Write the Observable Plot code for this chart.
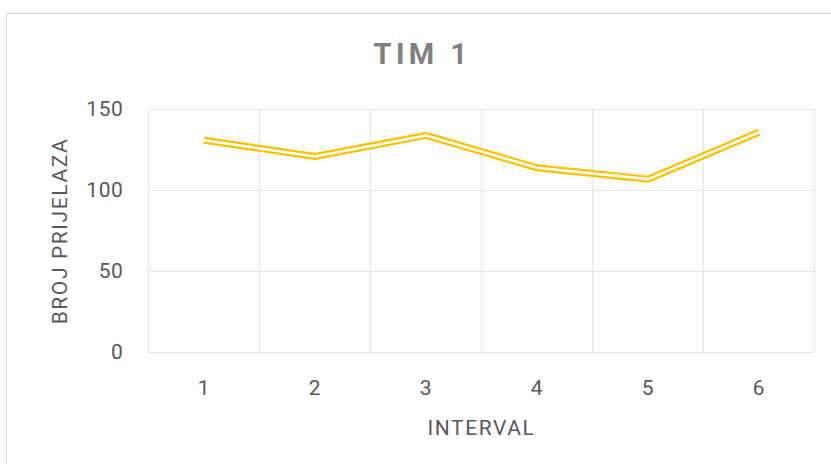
<!DOCTYPE html>
<html>
<head>
<meta charset="utf-8">
<script src="https://cdn.jsdelivr.net/npm/d3@7"></script>
<script src="https://cdn.jsdelivr.net/npm/@observablehq/plot@0.6"></script>
<style>
  html, body { margin: 0; padding: 0; background: #fff; }
  #wrap { position: relative; width: 831px; height: 464px; overflow: hidden; background: #fff; font-family: Roboto, "Noto Sans", sans-serif; }
  #frame { position: absolute; left: 6px; top: 13px; width: 840px; height: 470px; border: 1.5px solid #d9d9d9; box-sizing: border-box; }
  #title { position: absolute; left: 0; width: 845px; top: 37px; text-align: center; font-size: 29px; font-weight: bold; color: #808080; letter-spacing: 4.5px; }
  #chart { position: absolute; left: 0; top: 0; }
</style>
</head>
<body>
<div id="wrap">
  <div id="frame"></div>
  <div id="chart"></div>
  <div id="title">TIM 1</div>
</div>
<script>
const intervals = [1, 2, 3, 4, 5, 6];
const prijelazi = [131, 121, 134, 114, 107, 136];
const yTicks = [0, 50, 100, 150];
const xLabel = "INTERVAL";
const yLabel = "BROJ PRIJELAZA";

const data = intervals.map((x, i) => ({x, y: prijelazi[i]}));
const xBounds = d3.range(0, intervals.length + 1).map(i => i + 0.5);

const chart = Plot.plot({
  width: 831,
  height: 464,
  marginLeft: 148,
  marginRight: 17,
  marginTop: 109,
  marginBottom: 112,
  style: {background: "transparent", fontFamily: "Roboto, 'Noto Sans', sans-serif", fontSize: "21px", color: "#595959"},
  x: {domain: [0.5, 6.5]},
  y: {domain: [0, 150]},
  marks: [
    Plot.ruleY(yTicks, {stroke: "#e6e6e6", strokeWidth: 1.2}),
    Plot.ruleX(xBounds, {stroke: "#e6e6e6", strokeWidth: 1.2}),
    Plot.axisX(intervals, {tickSize: 0, tickPadding: 28, tickFormat: d => String(d), fill: "#595959", fontSize: 21, label: null}),
    Plot.axisY(yTicks, {tickSize: 0, tickPadding: 25, fill: "#595959", fontSize: 21, label: null}),
    Plot.text([xLabel], {frameAnchor: "bottom", lineAnchor: "middle", dy: 76, text: d => d, fill: "#595959", fontSize: 21}),
    Plot.text([yLabel], {frameAnchor: "left", textAnchor: "middle", lineAnchor: "middle", dx: -88, rotate: -90, text: d => d, fill: "#595959", fontSize: 21}),
    Plot.line(data, {x: "x", y: "y", stroke: "#FFC000", strokeWidth: 7, strokeLinecap: "butt", strokeLinejoin: "miter"}),
    Plot.line(data, {x: "x", y: "y", stroke: "#ffffff", strokeWidth: 2.6, strokeLinecap: "butt", strokeLinejoin: "miter"})
  ]
});
d3.select(chart).selectAll("text").each(function() {
  const t = this.textContent;
  if (t === xLabel || t === yLabel) this.setAttribute("letter-spacing", "1.6");
  else this.setAttribute("letter-spacing", "0.6");
});
document.getElementById("chart").appendChild(chart);
</script>
</body>
</html>
